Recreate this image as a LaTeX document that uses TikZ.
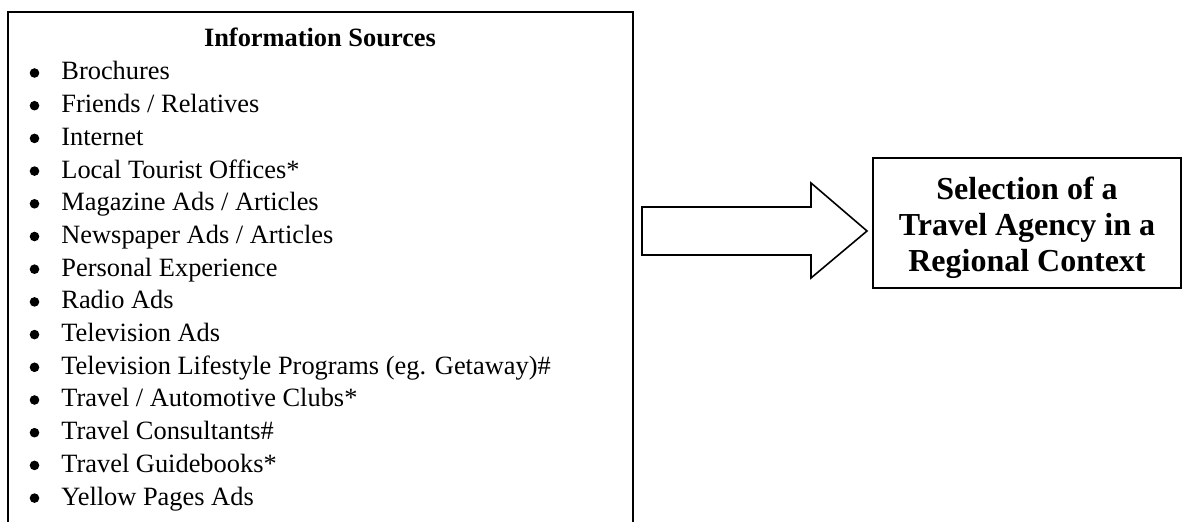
\documentclass[tikz,border=0pt]{standalone}
\usepackage{fontspec}
\setmainfont{Liberation Serif}
\usepackage{tikz}
\usetikzlibrary{calc}
\usetikzlibrary{positioning}

\tikzset{
	srcitem/.style={anchor=base west,inner sep=0pt,font=\fontsize{13.2}{15}\selectfont},
	srcbullet/.style={circle,fill,inner sep=0pt,minimum size=4.8pt},
	outcome/.style={draw,line width=1pt,minimum width=154pt,minimum height=65pt,align=center,
		font=\fontsize{16}{18}\selectfont\bfseries,inner sep=0pt}
}

\begin{document}
\begin{tikzpicture}[x=0.5pt,y=-0.5pt]
	\useasboundingbox (0,0) rectangle (1182,522);

	% sources box, open at the bottom
	\draw[line width=1pt] (8,522)--(8,12)--(633,12)--(633,522);
	\node [srcitem,anchor=base] (title) at (320,47) {\textbf{Information Sources}};

	\foreach \src [count=\i] in {Brochures,Friends / Relatives,Internet,Local Tourist Offices*,
		Magazine Ads / Articles,Newspaper Ads / Articles,Personal Experience,Radio Ads,
		Television Ads,Television Lifestyle Programs (eg. Getaway)\#,Travel / Automotive Clubs*,
		Travel Consultants\#,Travel Guidebooks*,Yellow Pages Ads}
	{
		\node [srcbullet] (b\i) at (34.5,{73+32.7*(\i-1)}) {};
		\node [srcitem] (s\i) at (61,{80+32.7*(\i-1)}) {\src};
	}

	% block arrow
	\coordinate (A) at (642,207);
	\coordinate (B) at (811,207);
	\coordinate (C) at (811,183);
	\coordinate (D) at (867,231);
	\coordinate (E) at (811,278);
	\coordinate (F) at (811,255);
	\coordinate (G) at (642,255);
	\draw[line width=0.8pt,line join=miter] (A)--(B)--(C)--(D)--(E)--(F)--(G)--cycle;

	\node [outcome] (sel) at (1027,223) {\rule{0pt}{16pt}Selection of a\\Travel Agency in a\\Regional Context};

\end{tikzpicture}
\end{document}
